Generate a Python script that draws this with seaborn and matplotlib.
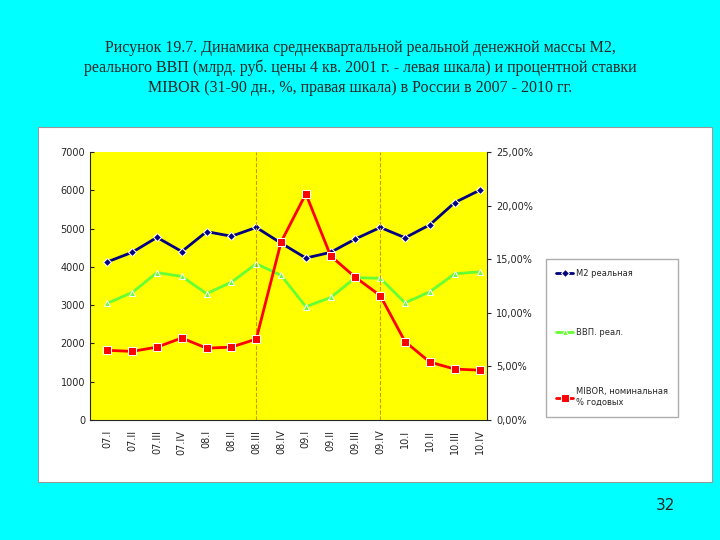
import matplotlib
matplotlib.use("Agg")
import matplotlib.pyplot as plt
import seaborn as sns
import pandas as pd
import numpy as np

quarters = ["07.I","07.II","07.III","07.IV","08.I","08.II","08.III","08.IV",
            "09.I","09.II","09.III","09.IV","10.I","10.II","10.III","10.IV"]
m2 = [4130,4380,4770,4400,4920,4800,5030,4620,4230,4380,4730,5030,4760,5100,5680,6000]
gdp = [3050,3330,3850,3750,3300,3600,4080,3780,2960,3200,3720,3700,3060,3350,3820,3870]
mibor = [6.5,6.4,6.8,7.65,6.7,6.8,7.55,16.6,21.1,15.3,13.3,11.6,7.3,5.4,4.75,4.65]

sns.set_style("white")
fig = plt.figure(figsize=(7.2,5.4), dpi=100)
fig.patch.set_facecolor("#00FFFF")
fig.add_artist(plt.Rectangle((38/720, 1-482/540), 674/720, 355/540, transform=fig.transFigure,
                             facecolor="white", edgecolor="#999999", lw=0.8, zorder=-10))
ax = fig.add_axes([90/720, 1-420/540, 397/720, 268/540])
ax.set_facecolor("#FFFF00")
x = np.arange(len(quarters))
df = pd.DataFrame({"x": x, "m2": m2, "gdp": gdp, "mibor": mibor})
sns.lineplot(data=df, x="x", y="m2", ax=ax, color="#000080", marker="D", markersize=4,
             lw=2, label="M2 реальная", legend=False)
sns.lineplot(data=df, x="x", y="gdp", ax=ax, color="#66FF33", marker="^", markersize=5,
             lw=2, label="ВВП. реал.", legend=False)
ax2 = ax.twinx()
sns.lineplot(data=df, x="x", y="mibor", ax=ax2, color="#FF0000", marker="s", markersize=6,
             lw=2, label="MIBOR, номинальная\n% годовых", legend=False)
ax.set_xlim(-0.7, 15.3)
ax.set_ylim(0, 7000)
ax2.set_ylim(0, 25)
ax.set_yticks(range(0, 7001, 1000))
ax2.set_yticks(range(0, 26, 5))
ax2.set_yticklabels([f"{v:.2f}%".replace(".", ",") for v in range(0, 26, 5)])
ax.set_xticks(x)
ax.set_xticklabels(quarters, rotation=90, fontsize=7)
ax.tick_params(axis="y", labelsize=7, length=3, direction="in")
ax2.tick_params(axis="y", labelsize=7, length=3, direction="out")
ax.set_xlabel(""); ax.set_ylabel(""); ax2.set_ylabel("")
for v in (6, 11):
    ax.axvline(v, color="#CC9900", ls="--", lw=0.8)
for a in (ax, ax2):
    for s in a.spines.values():
        s.set_visible(False)
ax.spines["left"].set_visible(True); ax.spines["bottom"].set_visible(True)
ax2.spines["right"].set_visible(True)
h1, l1 = ax.get_legend_handles_labels()
h2, l2 = ax2.get_legend_handles_labels()
fig.legend(h1 + h2, l1 + l2, loc="center", bbox_to_anchor=(612/720, 1-338/540),
           fontsize=6, frameon=True, fancybox=False, edgecolor="#999999",
           labelspacing=6, handlelength=2.0, handletextpad=0.3, borderpad=1.2)
fig.text(0.5, 1-68/540,
         "Рисунок 19.7. Динамика среднеквартальной реальной денежной массы М2,\n"
         "реального ВВП (млрд. руб. цены 4 кв. 2001 г. - левая шкала) и процентной ставки\n"
         "MIBOR (31-90 дн., %, правая шкала) в России в 2007 - 2010 гг.",
         ha="center", va="center", fontsize=11.5, family="Liberation Serif", linespacing=1.3)
fig.text(675/720, 1-505/540, "32", ha="right", va="center", fontsize=11)
fig.savefig("out.png", dpi=100)
